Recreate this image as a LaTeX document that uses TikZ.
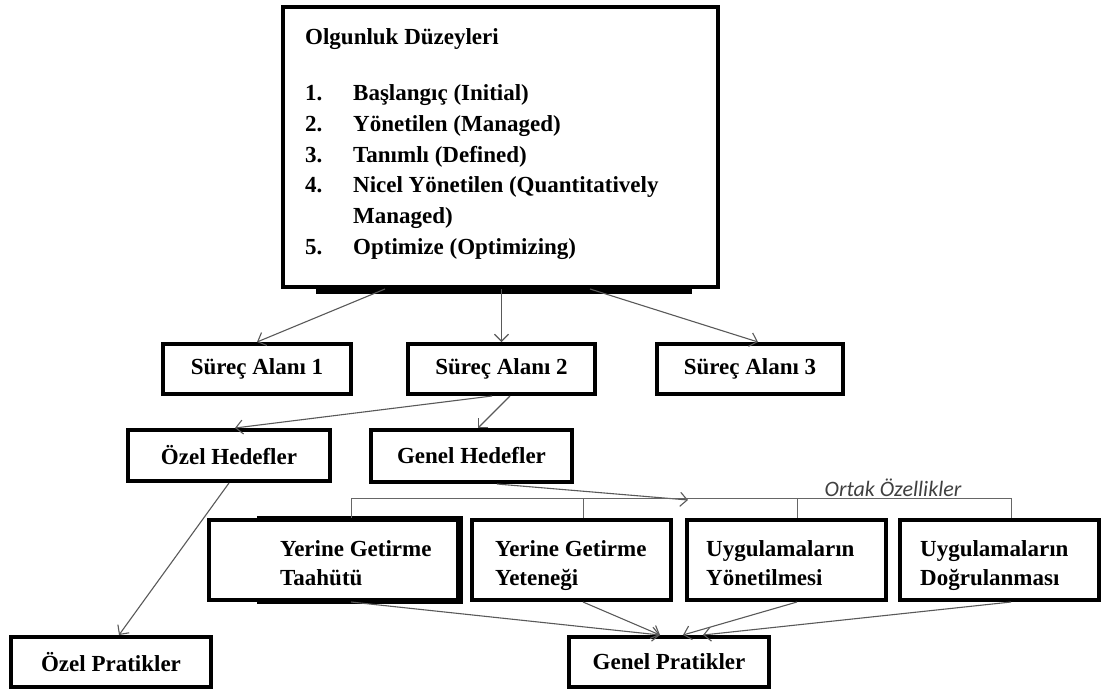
\documentclass[tikz,border=0pt]{standalone}
\usepackage{fontspec}
\setmainfont{Liberation Serif}
\newfontfamily\calibri{Carlito}
\usepackage{tikz}
\usetikzlibrary{arrows.meta}
\tikzset{
	box/.style 2 args={draw,line width=4pt,fill=white,inner sep=0pt,minimum width=#1,minimum height=#2,font=\bfseries\fontsize{23}{29}\selectfont},
	txt/.style={inner sep=0pt,align=left,font=\bfseries\fontsize{23}{29}\selectfont},
	arr/.style={-{Straight Barb[length=7pt,width=14pt]},draw=black!65,line width=1.1pt},
	brk/.style={draw=black!60,line width=1pt}
}

\begin{document}
\begin{tikzpicture}[x=1pt,y=-1pt]
						\useasboundingbox (0,0) rectangle (1101,689);
						\fill (316,286) rectangle (692,294);
						\fill (257,516) rectangle (463,604);

						\node [box={435pt}{280pt}] (levels) at (500.5,147) {};
						\node [txt,anchor=base west] (title) at (305,44.5) {Olgunluk Düzeyleri};
						\node [txt,anchor=base west] (list) at (305,100.5) {\fontsize{23}{30.8}\selectfont
							\begin{tabular}[t]{@{}p{48pt}@{}l@{}}
							1. & Başlangıç (Initial)\\
							2. & Yönetilen (Managed)\\
							3. & Tanımlı (Defined)\\
							4. & Nicel Yönetilen (Quantitatively\\
							   & Managed)\\
							5. & Optimize (Optimizing)
							\end{tabular}};

						\node [box={188pt}{50pt}] (sa1) at (257,369) {Süreç Alanı 1};
						\node [box={187pt}{50pt}] (sa2) at (501.5,369) {Süreç Alanı 2};
						\node [box={186pt}{50pt}] (sa3) at (750,369) {Süreç Alanı 3};
						\node [box={202pt}{51pt}] (oh) at (229,455.5) {Özel Hedefler};
						\node [box={201pt}{52pt}] (gh) at (471.5,456) {Genel Hedefler};

						\node [box={249pt}{80pt}] (b1) at (333.5,560) {};
						\node [box={199pt}{80pt}] (b2) at (571.5,560) {};
						\node [box={199pt}{80pt}] (b3) at (786.5,560) {};
						\node [box={199pt}{80pt}] (b4) at (999.5,560) {};
						\node [txt,anchor=north west] (b1t) at (280,540) {Yerine Getirme\\Taahütü};
						\node [txt,anchor=north west] (b2t) at (495,540) {Yerine Getirme\\Yeteneği};
						\node [txt,anchor=north west] (b3t) at (706,540) {Uygulamaların\\Yönetilmesi};
						\node [txt,anchor=north west] (b4t) at (920,540) {Uygulamaların\\Doğrulanması};

						\node [box={200pt}{50pt}] (op) at (111,662) {Özel Pratikler};
						\node [box={200pt}{50pt}] (gp) at (669,662) {Genel Pratikler};

						\node [inner sep=0pt,text=black!75,font=\calibri\itshape\fontsize{22}{26}\selectfont] (ortaklbl) at (893,488) {Ortak Özellikler};
						\coordinate (ortak) at (688,500);

						\draw[arr] ([xshift=-115.5pt]levels.south) -- (sa1.north);
						\draw[arr] (levels.south -| sa2) -- (sa2.north);
						\draw[arr] ([xshift=89.5pt]levels.south) -- ([xshift=8pt]sa3.north);
						\draw[arr] ([xshift=-9.5pt]sa2.south) -- ([xshift=6pt]oh.north);
						\draw[arr] ([xshift=8.5pt]sa2.south) -- ([xshift=6.5pt]gh.north);
						\draw[arr] (oh.south) -- ([xshift=8pt]op.north);
						\draw[arr] ([xshift=25.5pt]gh.south) -- (ortak);

						\draw[brk] ([xshift=17.5pt]b1.north) -- ++(0,-20) -| ([xshift=11.5pt]b4.north);
						\draw[brk] ([xshift=11.5pt]b2.north) -- ++(0,-20);
						\draw[brk] ([xshift=10.5pt]b3.north) -- ++(0,-20);

						\draw[arr] ([xshift=17.5pt]b1.south) -- ([xshift=-9pt]gp.north);
						\draw[arr] ([xshift=11.5pt]b2.south) -- ([xshift=-9pt]gp.north);
						\draw[arr] ([xshift=10.5pt]b3.south) -- ([xshift=14pt]gp.north);
						\draw[arr] ([xshift=11.5pt]b4.south) -- ([xshift=34pt]gp.north);
					\end{tikzpicture}
\end{document}
